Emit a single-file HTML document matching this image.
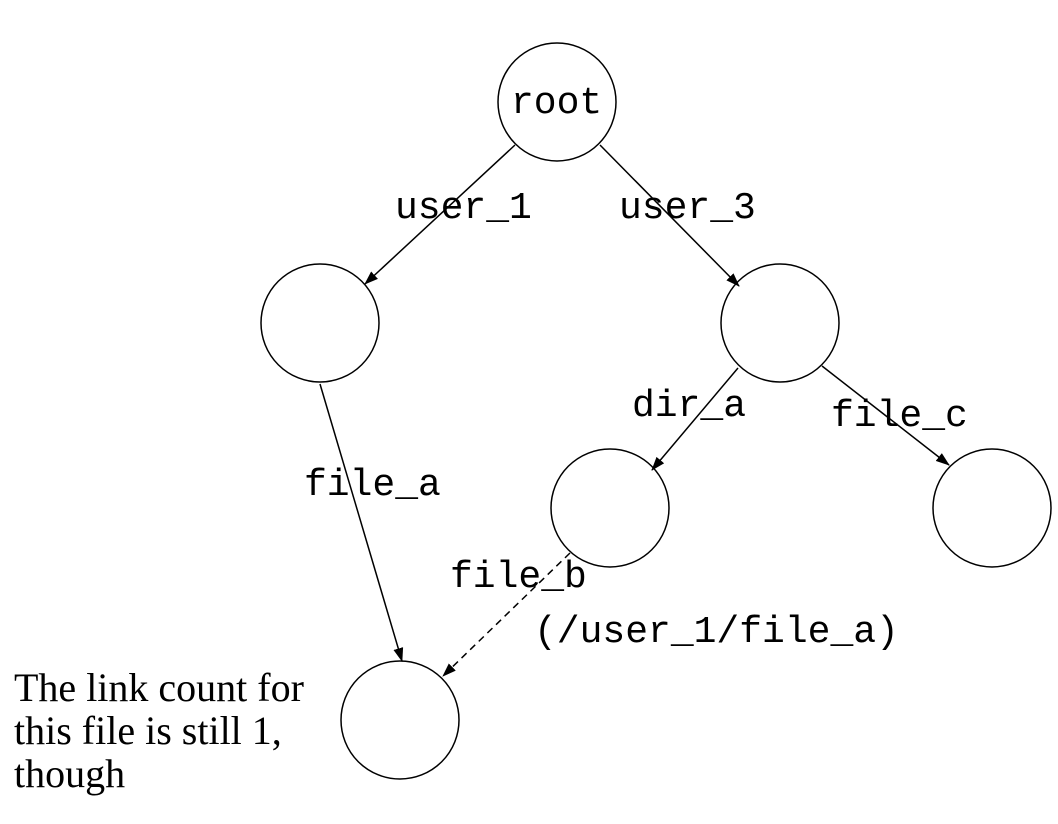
<!DOCTYPE html>
<html><head><style>
body{margin:0;background:#fff;}
svg{display:block}
.m{font-family:"Liberation Mono",monospace;font-size:38px;fill:#000}
.s{font-family:"Liberation Serif",serif;font-size:40px;fill:#000}
</style></head><body>
<svg width="1058" height="824" viewBox="0 0 1058 824" xmlns="http://www.w3.org/2000/svg">
<defs><marker id="a" markerWidth="14" markerHeight="10" refX="13" refY="5" orient="auto" markerUnits="userSpaceOnUse"><path d="M0,0 L14,5 L0,10 z" fill="#000"/></marker></defs>
<g fill="none" stroke="#000" stroke-width="1.5">
<circle cx="557" cy="102" r="59"/>
<circle cx="320" cy="323" r="59"/>
<circle cx="780" cy="323" r="59"/>
<circle cx="610" cy="508" r="59"/>
<circle cx="992" cy="508" r="59"/>
<circle cx="400" cy="720" r="59"/>
<line x1="515" y1="145" x2="365" y2="284" marker-end="url(#a)"/>
<line x1="600" y1="145" x2="739" y2="286" marker-end="url(#a)"/>
<line x1="320" y1="384" x2="402" y2="661" marker-end="url(#a)"/>
<line x1="738" y1="368" x2="652" y2="470" marker-end="url(#a)"/>
<line x1="822" y1="366" x2="949" y2="465" marker-end="url(#a)"/>
<line x1="570" y1="553" x2="443" y2="676" stroke-dasharray="7,5" marker-end="url(#a)"/>
</g>
<text class="m" x="511" y="113">root</text>
<text class="m" x="395" y="218">user_1</text>
<text class="m" x="619" y="218">user_3</text>
<text class="m" x="632" y="416">dir_a</text>
<text class="m" x="831" y="426">file_c</text>
<text class="m" x="304" y="495">file_a</text>
<text class="m" x="450" y="587">file_b</text>
<text class="m" x="534" y="642">(/user_1/file_a)</text>
<text class="s" x="14" y="701">The link count for</text>
<text class="s" x="14" y="744">this file is still 1,</text>
<text class="s" x="14" y="787">though</text>
</svg>
</body></html>
